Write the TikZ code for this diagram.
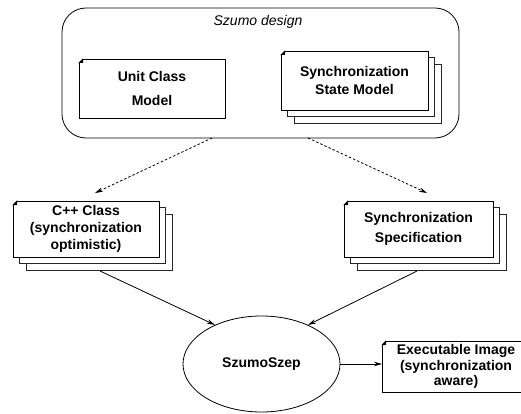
\documentclass[tikz,border=0pt]{standalone}
\usepackage{fontspec}
\setmainfont{Liberation Sans}
\usetikzlibrary{shapes.geometric,shadows,arrows.meta}

\tikzset{
  line/.style={line width=0.8pt},
  docbox/.style={
    rectangle, draw, fill=white, line width=0.8pt, inner sep=0pt,
    outer sep=0pt, align=center,
    font=\fontsize{14}{18}\selectfont\bfseries},
  stack/.style={double copy shadow={shadow xshift=6.5pt, shadow yshift=-6.5pt,
      draw=black!85, fill=white, line width=0.9pt}},
  flow/.style={line, -{Stealth[length=8pt,width=4.5pt]}},
  derive/.style={flow, dash pattern=on 2.5pt off 2pt},
}

% folded top-left corner of a document box
\newcommand\dogear[1]{%
  \fill[white] ([xshift=-1pt,yshift=1pt]#1.north west)
    -- ([xshift=5pt,yshift=1pt]#1.north west)
    -- ([xshift=-1pt,yshift=-5pt]#1.north west) -- cycle;
  \fill[black] ([yshift=-4pt]#1.north west) -- ([xshift=4pt]#1.north west)
    -- ([xshift=4pt,yshift=-4pt]#1.north west) -- cycle;
  \draw[line, line cap=round] ([yshift=-4pt]#1.north west) -- ([xshift=4pt]#1.north west);
}

\begin{document}
\begin{tikzpicture}[x=1pt,y=-1pt]
  \useasboundingbox (0,0) rectangle (521,414);
  \clip (0,0) rectangle (521,414);

  % design container
  \node[draw, line, rounded corners=24pt, minimum width=397pt,
        minimum height=130pt] (design) at (260.5,73) {};
  \node[font=\fontsize{14}{16}\selectfont\itshape] (title) at (258,22) {Szumo design};

  \node[docbox, minimum width=146pt, minimum height=59pt,
        font=\fontsize{14}{24}\selectfont\bfseries] (ucm) at (152,88.5)
        {Unit Class\\Model};
  \node[docbox, stack, minimum width=147pt, minimum height=59pt] (ssm) at (354.5,80.5)
        {Synchronization\\State Model};

  % generated artefacts
  \node[docbox, stack, minimum width=146pt, minimum height=56pt,
        font=\fontsize{14}{17}\selectfont\bfseries] (cpp) at (86,229)
        {C++ Class\\(synchronization\\optimistic)};
  \node[docbox, stack, minimum width=149pt, minimum height=56pt,
        font=\fontsize{14}{20}\selectfont\bfseries] (spec) at (418.5,229)
        {Synchronization\\Specification};

  % tool and result
  \node[ellipse, draw, line, minimum width=157pt, minimum height=96pt,
        font=\fontsize{14}{16}\selectfont\bfseries] (szep) at (261.5,364) {SzumoSzep};
  \node[docbox, minimum width=148pt, minimum height=51pt,
        font=\fontsize{14}{15.5}\selectfont\bfseries] (exec) at (456,366.5)
        {Executable Image\\(synchronization\\aware)};

  \dogear{ucm}
  \dogear{ssm}
  \dogear{cpp}
  \dogear{spec}
  \dogear{exec}

  % connectors
  \coordinate (dl) at (212,138);
  \coordinate (dr) at (308,138);
  \coordinate (cppin) at (95,193);
  \coordinate (specin) at (427,193);
  \coordinate (cppout) at (100,271);
  \coordinate (specout) at (417,271);

  \draw[derive] (dl) -- (cppin);
  \draw[derive] (dr) -- (specin);
  \draw[flow] (cppout) -- (szep.140);
  \draw[flow] (specout) -- (szep.40);
  \draw[flow] (szep.east) -- (szep.east -| exec.west);
\end{tikzpicture}
\end{document}
